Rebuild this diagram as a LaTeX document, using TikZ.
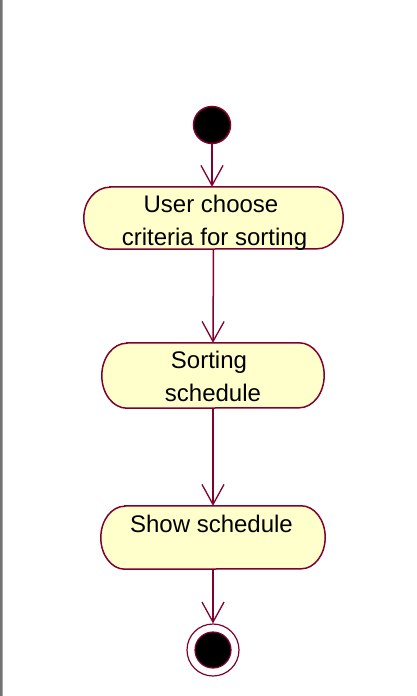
\documentclass[tikz,border=0pt]{standalone}
\usepackage{fontspec}
\setmainfont{Liberation Sans}
\usetikzlibrary{arrows.meta}
\definecolor{umlline}{RGB}{128,0,48}
\definecolor{umlfill}{RGB}{255,255,204}
\begin{document}
\begin{tikzpicture}[x=1pt,y=-1pt,
  anchorbox/.style={rectangle,inner sep=0pt},
  activity/.style={draw=umlline,fill=umlfill,line width=1.5pt},
  lbl/.style={anchor=base,inner sep=0pt,font=\fontsize{24}{33}\selectfont},
  flow/.style={draw=umlline,line width=1.5pt,-{Straight Barb[length=20pt,width=22pt,line width=1.3pt]}}]
\useasboundingbox (0,0) rectangle (416,696);
\fill[white] (0,0) rectangle (416,696);
\fill[gray!90!black] (0,0) rectangle (2,696);
\fill[gray!70] (2,0) rectangle (3.2,696);
% initial node
\node[circle,draw=umlline,fill=black,line width=1.5pt,minimum size=37pt,inner sep=0pt] (init) at (212,125) {};
% activities (anchor boxes)
\node[anchorbox,minimum width=259pt,minimum height=62pt] (a1) at (213.5,218) {};
\node[anchorbox,minimum width=222pt,minimum height=65pt] (a2) at (213,375.5) {};
\node[anchorbox,minimum width=224pt,minimum height=63pt] (a3) at (213,537.5) {};
% activity outlines
\path[activity] ([xshift=26pt]a1.north west) -- ([xshift=-26pt]a1.north east)
  arc[start angle=90,end angle=-90,x radius=26pt,y radius=31pt]
  -- ([xshift=26pt]a1.south west)
  arc[start angle=270,end angle=90,x radius=26pt,y radius=31pt] -- cycle;
\path[activity] ([xshift=25pt]a2.north west) -- ([xshift=-25pt]a2.north east)
  arc[start angle=90,end angle=-90,x radius=25pt,y radius=32.5pt]
  -- ([xshift=25pt]a2.south west)
  arc[start angle=270,end angle=90,x radius=25pt,y radius=32.5pt] -- cycle;
\path[activity] ([xshift=24pt]a3.north west) -- ([xshift=-24pt]a3.north east)
  arc[start angle=90,end angle=-90,x radius=24pt,y radius=31.5pt]
  -- ([xshift=24pt]a3.south west)
  arc[start angle=270,end angle=90,x radius=24pt,y radius=31.5pt] -- cycle;
% labels
\node[lbl] (t1a) at (211,212) {User choose};
\node[lbl] (t1b) at (214.5,245) {criteria for sorting};
\node[lbl] (t2a) at (209,368) {Sorting};
\node[lbl] (t2b) at (213,401) {schedule};
\node[lbl] (t3) at (211.5,532) {Show schedule};
% final node
\node[circle,draw=umlline,fill=white,line width=1.2pt,minimum size=52pt,inner sep=0pt] (fin) at (213,650) {};
\node[circle,draw=umlline,fill=black,line width=1.2pt,minimum size=36pt,inner sep=0pt] (finin) at (213,650) {};
% flows
\draw[flow] (init.south) -- (init.south |- a1.north);
\draw[flow] (a1.south) -- (a2.north);
\draw[flow] (a2.south) -- (a3.north);
\draw[flow] (a3.south) -- (fin.north);
\end{tikzpicture}
\end{document}
